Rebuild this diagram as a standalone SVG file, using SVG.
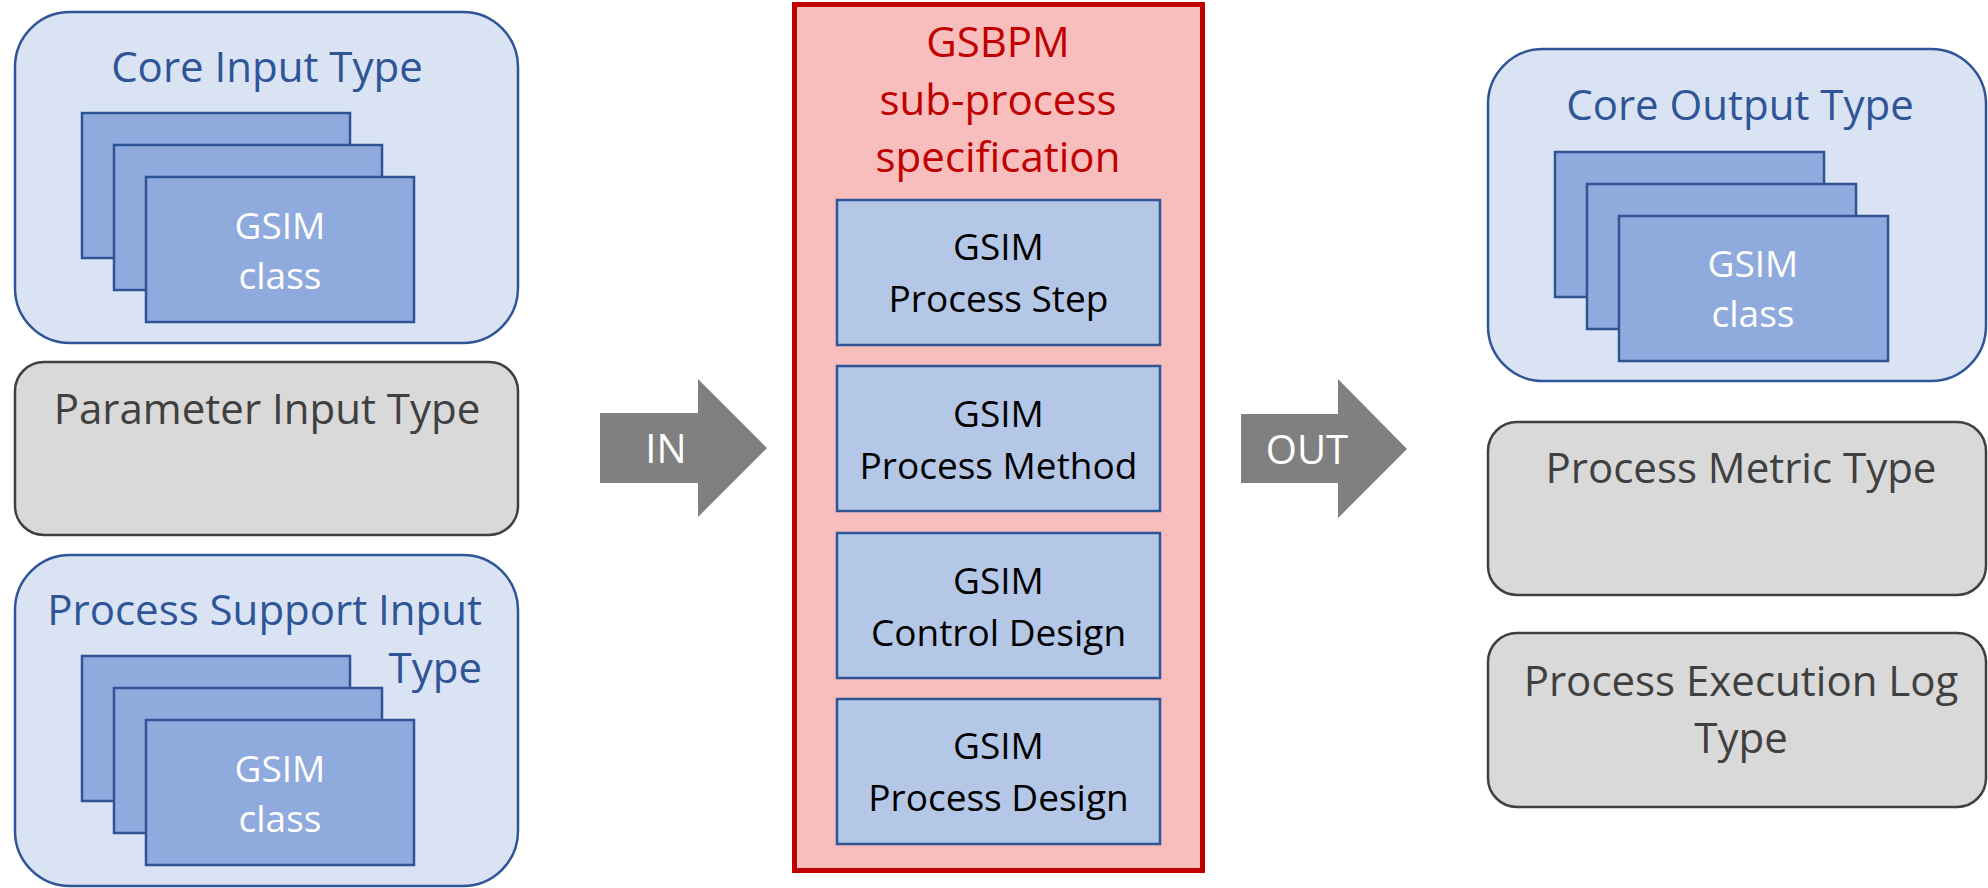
<svg xmlns="http://www.w3.org/2000/svg" width="1988" height="888" viewBox="0 0 1988 888">
  <style>
    text { font-family: "Open Sans", "Noto Sans", "Liberation Sans", sans-serif; text-anchor: middle; }
    .group-box { fill: #DAE3F3; stroke: #2F5597; stroke-width: 2.5; }
    .class-card { fill: #8FAADC; stroke: #2F5597; stroke-width: 2.5; }
    .grey-box { fill: #D9D9D9; stroke: #404040; stroke-width: 2.5; }
    .spec-box { fill: #F8BDBD; stroke: #C00000; stroke-width: 5; }
    .step-box { fill: #B4C7E7; stroke: #2F5597; stroke-width: 2.5; }
    .flow-arrow { fill: #808080; }
    .title-blue { fill: #2F5597; font-size: 42px; }
    .title-grey { fill: #404040; font-size: 42px; }
    .title-red { fill: #C00000; font-size: 42px; }
    .card-label { fill: #FFFFFF; font-size: 37px; }
    .step-label { fill: #000000; font-size: 37px; }
    .arrow-label { fill: #FFFFFF; font-size: 40px; }
  </style>

  <!-- Input side -->
  <g id="core-input-type">
    <rect class="group-box" x="15" y="12" width="503" height="331" rx="55" ry="55"/>
    <text class="title-blue" x="267" y="82">Core Input Type</text>
    <rect class="class-card" x="82" y="113" width="268" height="145"/>
    <rect class="class-card" x="114" y="145" width="268" height="145"/>
    <rect class="class-card" x="146" y="177" width="268" height="145"/>
    <text class="card-label" x="280" y="239">GSIM</text>
    <text class="card-label" x="280" y="289">class</text>
  </g>

  <g id="parameter-input-type">
    <rect class="grey-box" x="15" y="362" width="503" height="173" rx="29" ry="29"/>
    <text class="title-grey" x="267" y="424">Parameter Input Type</text>
  </g>

  <g id="process-support-input-type">
    <rect class="group-box" x="15" y="555" width="503" height="331" rx="55" ry="55"/>
    <text class="title-blue" x="482" y="625" style="text-anchor:end">Process Support Input</text>
    <text class="title-blue" x="482" y="683" style="text-anchor:end">Type</text>
    <rect class="class-card" x="82" y="656" width="268" height="145"/>
    <rect class="class-card" x="114" y="688" width="268" height="145"/>
    <rect class="class-card" x="146" y="720" width="268" height="145"/>
    <text class="card-label" x="280" y="782">GSIM</text>
    <text class="card-label" x="280" y="832">class</text>
  </g>

  <!-- Sub-process specification -->
  <g id="gsbpm-sub-process">
    <rect class="spec-box" x="794.5" y="4.5" width="408" height="866"/>
    <text class="title-red" x="998" y="57">GSBPM</text>
    <text class="title-red" x="998" y="115">sub-process</text>
    <text class="title-red" x="998" y="172">specification</text>
  </g>

  <g id="process-step">
    <rect class="step-box" x="837" y="200" width="323" height="145"/>
    <text class="step-label" x="998.5" y="260">GSIM</text>
    <text class="step-label" x="998.5" y="312">Process Step</text>
  </g>

  <g id="process-method">
    <rect class="step-box" x="837" y="366" width="323" height="145"/>
    <text class="step-label" x="998.5" y="427">GSIM</text>
    <text class="step-label" x="998.5" y="479">Process Method</text>
  </g>

  <g id="control-design">
    <rect class="step-box" x="837" y="533" width="323" height="145"/>
    <text class="step-label" x="998.5" y="594">GSIM</text>
    <text class="step-label" x="998.5" y="646">Control Design</text>
  </g>

  <g id="process-design">
    <rect class="step-box" x="837" y="699" width="323" height="145"/>
    <text class="step-label" x="998.5" y="759">GSIM</text>
    <text class="step-label" x="998.5" y="811">Process Design</text>
  </g>

  <!-- Output side -->
  <g id="core-output-type">
    <rect class="group-box" x="1488" y="49" width="498" height="332" rx="55" ry="55"/>
    <text class="title-blue" x="1740" y="120">Core Output Type</text>
    <rect class="class-card" x="1555" y="152" width="269" height="145"/>
    <rect class="class-card" x="1587" y="184" width="269" height="145"/>
    <rect class="class-card" x="1619" y="216" width="269" height="145"/>
    <text class="card-label" x="1753" y="277">GSIM</text>
    <text class="card-label" x="1753" y="327">class</text>
  </g>

  <g id="process-metric-type">
    <rect class="grey-box" x="1488" y="422" width="498" height="173" rx="29" ry="29"/>
    <text class="title-grey" x="1741" y="483">Process Metric Type</text>
  </g>

  <g id="process-execution-log-type">
    <rect class="grey-box" x="1488" y="633" width="498" height="174" rx="29" ry="29"/>
    <text class="title-grey" x="1741" y="696">Process Execution Log</text>
    <text class="title-grey" x="1741" y="753">Type</text>
  </g>

  <!-- Block arrows between the columns -->
  <g id="connectors">
    <g id="in-arrow">
      <polygon class="flow-arrow" points="600,413 698,413 698,379 767,448 698,517 698,483 600,483"/>
      <text class="arrow-label" x="666" y="463">IN</text>
    </g>
    <g id="out-arrow">
      <polygon class="flow-arrow" points="1241,414 1338,414 1338,379 1407,449 1338,518 1338,483 1241,483"/>
      <text class="arrow-label" x="1307" y="464">OUT</text>
    </g>
  </g>
</svg>
